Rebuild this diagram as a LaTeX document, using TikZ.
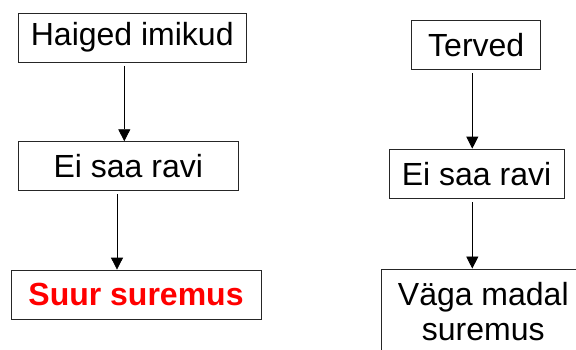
\documentclass[tikz,border=0pt]{standalone}
\usepackage{fontspec}
\setmainfont{Liberation Sans}
\usetikzlibrary{arrows.meta}
\tikzset{
  box/.style={draw=black!85, line width=0.9pt, inner sep=0pt, font=\fontsize{32}{35}\selectfont, align=center},
  conn/.style={draw=black, line width=0.8pt, -{Triangle[width=12pt,length=12pt]}, shorten <=3.5pt}
}
\begin{document}
\begin{tikzpicture}[x=1pt,y=-1pt]
\useasboundingbox (0,0) rectangle (576,349);
\clip (0,0) rectangle (576,349);
\node[box, minimum width=227.5pt, minimum height=49pt] (a1) at (132.25,37.5) {Haiged imikud};
\node[box, minimum width=219.5pt, minimum height=48.6pt] (a2) at (128.25,166) {Ei saa ravi};
\node[box, minimum width=250pt, minimum height=49.3pt, text=red, font=\fontsize{32}{35}\selectfont\bfseries] (a3) at (136,294.7) {Suur suremus};
\node[box, minimum width=129pt, minimum height=49.3pt] (b1) at (476.2,44.7) {Terved};
\node[box, minimum width=175pt, minimum height=49.3pt] (b2) at (476.5,173.7) {Ei saa ravi};
\node[box, minimum width=204pt, minimum height=86pt] (b3) at (483.3,312) {Väga madal\\suremus};
\coordinate (x1) at (124.3,0);
\coordinate (x2) at (117,0);
\coordinate (x3) at (472.3,0);
\draw[conn] (a1.south -| x1) -- (a2.north -| x1);
\draw[conn] (a2.south -| x2) -- (a3.north -| x2);
\draw[conn] (b1.south -| x3) -- (b2.north -| x3);
\draw[conn] (b2.south -| x3) -- (b3.north -| x3);
\end{tikzpicture}
\end{document}
